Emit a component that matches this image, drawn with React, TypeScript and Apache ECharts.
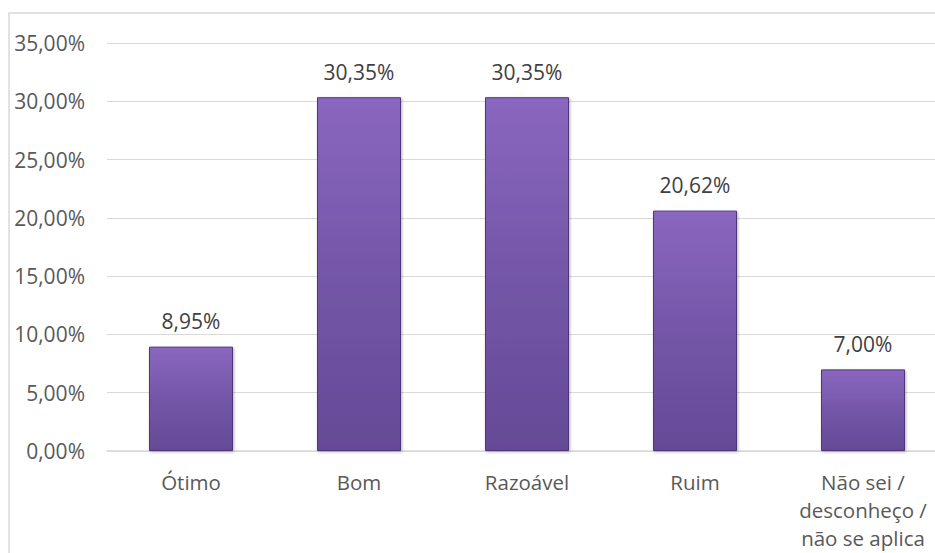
import React, { useEffect, useRef } from "react";
import * as echarts from "echarts";

const categories = ["Ótimo", "Bom", "Razoável", "Ruim", "Não sei /\ndesconheço /\nnão se aplica"];
const values = [8.95, 30.35, 30.35, 20.62, 7.0];
const yTicks = { min: 0, max: 35, interval: 5 };

const fmt = (v: number) => v.toFixed(2).replace(".", ",") + "%";

export default function App() {
  const ref = useRef<HTMLDivElement>(null);
  useEffect(() => {
    document.body.style.margin = "0";
    document.body.style.overflow = "hidden";
    const chart = echarts.init(ref.current!, null, { renderer: "svg" });
    const font = "'Open Sans', sans-serif";
    chart.setOption({
      animation: false,
      backgroundColor: "#ffffff",
      textStyle: { fontFamily: font },
      grid: { left: 107, top: 43, right: 13, bottom: 129, containLabel: false },
      graphic: [
        {
          type: "rect",
          shape: { x: 9, y: 13, width: 1000, height: 700 },
          style: { fill: "none", stroke: "#d9d9d9", lineWidth: 1.5 },
          silent: true,
          z: -10,
        },
      ],
      xAxis: {
        type: "category",
        data: categories,
        axisTick: { show: false },
        axisLine: { show: true, lineStyle: { color: "#d9d9d9", width: 1.5 } },
        axisLabel: {
          color: "#595959",
          fontSize: 20.5,
          fontFamily: font,
          margin: 17,
          lineHeight: 28,
          interval: 0,
        },
      },
      yAxis: {
        type: "value",
        min: yTicks.min,
        max: yTicks.max,
        interval: yTicks.interval,
        axisLine: { show: false },
        axisTick: { show: false },
        splitLine: { lineStyle: { color: "#d9d9d9", width: 1 } },
        axisLabel: {
          color: "#595959",
          fontSize: 21,
          fontFamily: font,
          margin: 22,
          formatter: (v: number) => fmt(v),
        },
      },
      series: [
        {
          type: "bar",
          data: values,
          barWidth: "50%",
          itemStyle: {
            color: new echarts.graphic.LinearGradient(0, 0, 0, 1, [
              { offset: 0, color: "#8a67bf" },
              { offset: 0.5, color: "#7456a8" },
              { offset: 1, color: "#654a96" },
            ]),
            borderColor: "#4e3678",
            borderWidth: 1,
            shadowColor: "rgba(0,0,0,0.3)",
            shadowBlur: 3,
            shadowOffsetX: 1,
            shadowOffsetY: 1,
          },
          label: {
            show: true,
            position: "top",
            distance: 15,
            color: "#404040",
            fontSize: 21,
            fontFamily: font,
            formatter: (p: any) => fmt(p.value),
          },
        },
      ],
    });
    return () => chart.dispose();
  }, []);
  return (
    <div style={{ position: "fixed", left: 0, top: 0, width: 935, height: 553, overflow: "hidden" }}>
      <div ref={ref} style={{ width: 960, height: 580 }} />
    </div>
  );
}
